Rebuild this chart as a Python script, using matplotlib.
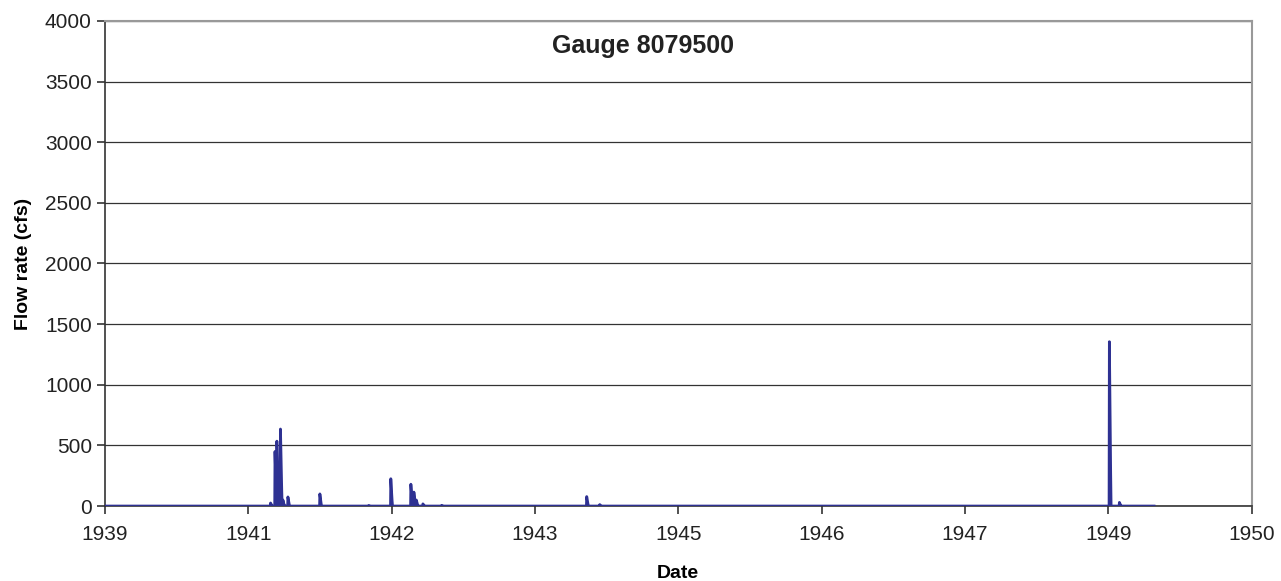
import matplotlib
matplotlib.use('Agg')
import matplotlib.pyplot as plt
import numpy as np

plt.rcParams['font.family'] = ['Liberation Sans', 'DejaVu Sans']

# x axis in tick units (Excel date axis, 9 evenly spaced ticks)
tick_labels = ['1939', '1941', '1942', '1943', '1945', '1946', '1947', '1949', '1950']

# flow peaks: position (tick units) and flow rate (cfs)
peak_pos = [1.155, 1.186, 1.199, 1.224, 1.241, 1.276, 1.499, 1.841, 1.994,
            2.134, 2.155, 2.172, 2.218, 2.350, 3.361, 3.452, 7.008, 7.078]
peak_flow = [25, 450, 535, 635, 50, 75, 100, 5, 225,
             180, 115, 50, 18, 6, 78, 12, 1355, 30]
data_end = 7.32

# build daily-like series: zero baseline with narrow spikes
x = [0.0]
y = [0.0]
for p, v in zip(peak_pos, peak_flow):
    x += [p - 0.002, p, p + 0.009, p + 0.012]
    y += [0, v, v * 0.2, 0]
x.append(data_end)
y.append(0)

fig = plt.figure(figsize=(12.81, 5.81), dpi=100)
ax = fig.add_axes([0.082, 0.129, 0.895, 0.835])

ax.plot(x, y, color='#2E3192', linewidth=2, zorder=3)

ax.set_xlim(0, 8)
ax.set_ylim(0, 4000)
ax.set_xticks(range(len(tick_labels)))
ax.set_xticklabels(tick_labels)
ax.set_yticks(np.arange(0, 4001, 500))
ax.grid(axis='y', color='#333333', linewidth=0.9)
ax.set_axisbelow(True)

for s in ['top', 'right']:
    ax.spines[s].set_color('#999999')
    ax.spines[s].set_linewidth(1.5)
for s in ['left', 'bottom']:
    ax.spines[s].set_color('#333333')
    ax.spines[s].set_linewidth(1.2)

ax.tick_params(axis='both', labelsize=15, length=6, width=1.2, color='#333333',
               labelcolor='#222222')
ax.tick_params(axis='x', pad=8)

ax.set_xlabel('Date', fontsize=14, fontweight='bold', labelpad=15)
ax.set_ylabel('Flow rate (cfs)', fontsize=14, fontweight='bold', labelpad=9)
ax.text(0.469, 0.972, 'Gauge 8079500', transform=ax.transAxes, ha='center',
        va='top', fontsize=18, fontweight='bold', color='#222222')

fig.savefig('out.png', dpi=100)
